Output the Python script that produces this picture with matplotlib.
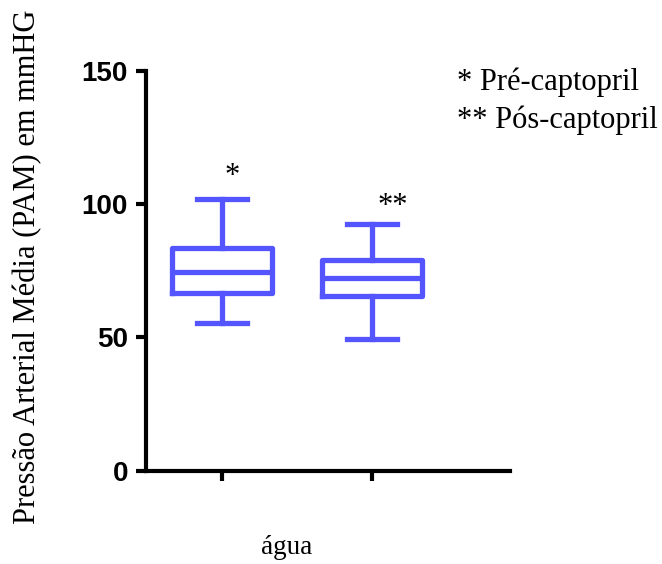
import matplotlib.pyplot as plt

# box statistics (mmHg)
labels = ['Pré-captopril', 'Pós-captopril']
marks = ['*', '**']
whislo = [55.3, 49.3]
q1 = [66.5, 65.5]
med = [74.5, 72.4]
q3 = [83.6, 79.0]
whishi = [101.8, 92.5]
mark_y = [110.5, 99.0]

blue = '#5555FF'

stats = []
for i in range(len(labels)):
    stats.append({'whislo': whislo[i], 'q1': q1[i], 'med': med[i],
                  'q3': q3[i], 'whishi': whishi[i], 'label': labels[i]})

fig = plt.figure(figsize=(6.62, 5.64), dpi=100)
ax = fig.add_axes([146/662, (564-470.7)/564, 364/662, 400/564])

lw = 3.8
ax.bxp(stats, positions=[1, 2], widths=0.667, showfliers=False,
       boxprops=dict(color=blue, linewidth=lw),
       whiskerprops=dict(color=blue, linewidth=lw),
       capprops=dict(color=blue, linewidth=lw),
       medianprops=dict(color=blue, linewidth=lw),
       capwidths=0.33)

ax.text(1.07, mark_y[0], marks[0], ha='center', va='center',
        fontsize=22, family='Liberation Serif')
ax.text(2.14, mark_y[1], marks[1], ha='center', va='center',
        fontsize=22, family='Liberation Serif')

ax.set_xlim(0.493, 2.92)
ax.set_ylim(0, 150)
ax.set_yticks([0, 50, 100, 150])
ax.set_xticks([1, 2])
ax.set_xticklabels(['', ''])

for s in ['top', 'right']:
    ax.spines[s].set_visible(False)
for s in ['left', 'bottom']:
    ax.spines[s].set_linewidth(3)
ax.tick_params(width=3, length=7, pad=6)
for t in ax.get_yticklabels():
    t.set_fontfamily('Liberation Sans')
    t.set_fontweight('bold')
    t.set_fontsize(20)

ax.set_ylabel('Pressão Arterial Média (PAM) em mmHG',
              family='Liberation Serif', fontsize=22)
ax.yaxis.set_label_coords(-0.285, 0.509)

fig.text(287/662, 1 - 548/564, 'água', ha='center', va='center',
         family='Liberation Serif', fontsize=19.5)

fig.text(457/662, 1 - 82/564, marks[0] + ' ' + labels[0], ha='left', va='center',
         family='Liberation Serif', fontsize=22)
fig.text(457/662, 1 - 120/564, marks[1] + ' ' + labels[1], ha='left', va='center',
         family='Liberation Serif', fontsize=22)

fig.savefig('out.png', dpi=100)
